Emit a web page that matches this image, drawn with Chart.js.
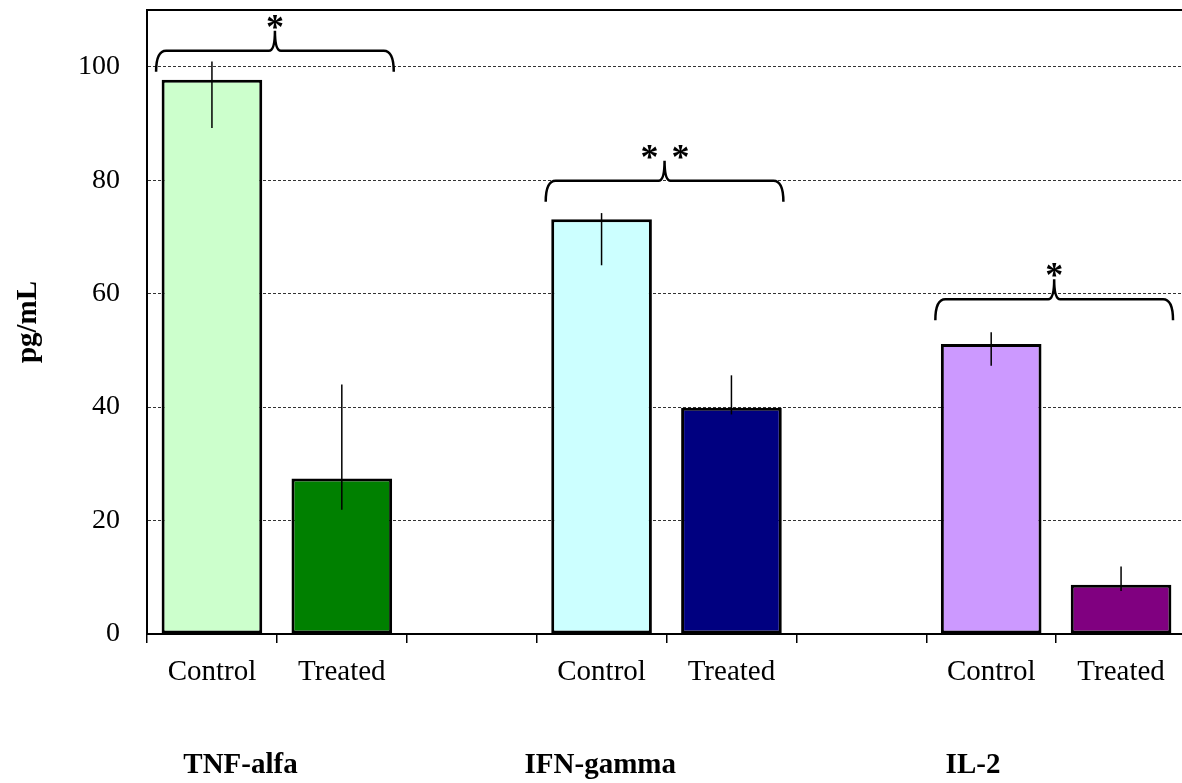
<!DOCTYPE html>
<html>
<head>
<meta charset="utf-8">
<script src="https://cdn.jsdelivr.net/npm/chart.js@4.4.0/dist/chart.umd.min.js"></script>
<style>
  html, body { margin: 0; padding: 0; background: #fff; overflow: hidden; }
  canvas { display: block; }
</style>
</head>
<body>
<canvas id="cytokines" width="1190" height="783"></canvas>
<script>
// category slots along the x axis (empty slot = gap between groups)
const categories = ['Control', 'Treated', '', 'Control', 'Treated', '', 'Control', 'Treated'];
const groupNames = ['TNF-alfa', 'IFN-gamma', 'IL-2'];
const groupLabelSlots = [0.22, 2.99, 5.86];

// values in pg/mL
const controlValues = [97.7, 73.1, 51.1];
const treatedValues = [27.4, 39.9, 8.7];
const controlErrHigh = [100.9, 74.2, 53.2];
const controlErrLow = [89.2, 65.0, 47.3];
const treatedErrHigh = [44.0, 45.6, 11.9];
const treatedErrLow = [21.9, 38.7, 7.6];

// significance braces
const braceLevels = [102.8, 79.9, 59.0];
const significance = ['*', '* *', '*'];

const controlColors = ['#ccffcc', '#ccffff', '#cc99ff'];
const treatedColors = ['#008000', '#000080', '#800080'];

// build per-slot arrays
const barValues = [], errHigh = [], errLow = [], barColors = [];
groupNames.forEach((g, i) => {
  barValues.push(controlValues[i], treatedValues[i]);
  errHigh.push(controlErrHigh[i], treatedErrHigh[i]);
  errLow.push(controlErrLow[i], treatedErrLow[i]);
  barColors.push(controlColors[i], treatedColors[i]);
  if (i < groupNames.length - 1) {
    barValues.push(null); errHigh.push(null); errLow.push(null); barColors.push('#fff');
  }
});

const serif = '"Liberation Serif", "Times New Roman", serif';

const extras = {
  id: 'extras',
  afterDatasetsDraw(chart) {
    const ctx = chart.ctx;
    const meta = chart.getDatasetMeta(0);
    const x = chart.scales.x, y = chart.scales.y;
    const area = chart.chartArea;

    // error bars
    ctx.save();
    ctx.strokeStyle = '#000';
    ctx.lineWidth = 1.5;
    barValues.forEach((v, i) => {
      if (v === null) return;
      const px = meta.data[i].x;
      ctx.beginPath();
      ctx.moveTo(px, y.getPixelForValue(errLow[i]));
      ctx.lineTo(px, y.getPixelForValue(errHigh[i]));
      ctx.stroke();
    });
    ctx.restore();

    // top frame line
    ctx.save();
    ctx.strokeStyle = '#000';
    ctx.lineWidth = 2;
    ctx.beginPath();
    ctx.moveTo(area.left, area.top);
    ctx.lineTo(area.right, area.top);
    ctx.stroke();
    ctx.restore();

    // braces with asterisks
    ctx.save();
    ctx.strokeStyle = '#000';
    ctx.fillStyle = '#000';
    ctx.lineWidth = 2.5;
    braceLevels.forEach((lvl, g) => {
      const ci = g * 3;
      const l = x.getPixelForValue(ci - 0.43);
      const r = x.getPixelForValue(ci + 1.40);
      const m = (l + r) / 2;
      const yb = y.getPixelForValue(lvl);
      const drop = 21, rise = 20, c = 10;
      ctx.beginPath();
      ctx.moveTo(l, yb + drop);
      ctx.quadraticCurveTo(l, yb, l + c, yb);
      ctx.lineTo(m - 6, yb);
      ctx.quadraticCurveTo(m, yb, m, yb - rise);
      ctx.quadraticCurveTo(m, yb, m + 6, yb);
      ctx.lineTo(r - c, yb);
      ctx.quadraticCurveTo(r, yb, r, yb + drop);
      ctx.stroke();

      ctx.font = 'bold 36px ' + serif;
      ctx.textAlign = 'center';
      ctx.textBaseline = 'alphabetic';
      const base = yb - 29 + 17;
      const marks = significance[g].split(' ');
      if (marks.length === 1) {
        ctx.fillText(marks[0], m, base);
      } else {
        ctx.fillText(marks[0], m - 15, base);
        ctx.fillText(marks[1], m + 16, base);
      }
    });
    ctx.restore();

    // group names under the axis
    ctx.save();
    ctx.fillStyle = '#000';
    ctx.font = 'bold 29px ' + serif;
    ctx.textAlign = 'center';
    ctx.textBaseline = 'middle';
    groupNames.forEach((name, g) => {
      ctx.fillText(name, x.getPixelForValue(groupLabelSlots[g]), 766);
    });
    ctx.restore();
  }
};

new Chart(document.getElementById('cytokines'), {
  type: 'bar',
  data: {
    labels: categories,
    datasets: [{
      data: barValues,
      backgroundColor: barColors,
      borderColor: '#000',
      borderWidth: 3,
      borderSkipped: false,
      barPercentage: 0.775,
      categoryPercentage: 1.0
    }]
  },
  options: {
    responsive: false,
    animation: false,
    layout: { padding: { top: 10, right: 4, left: 11, bottom: 0 } },
    plugins: {
      legend: { display: false },
      tooltip: { enabled: false }
    },
    scales: {
      x: {
        offset: true,
        afterFit(scale) { scale.height = 149; },
        grid: {
          offset: true,
          drawOnChartArea: false,
          drawTicks: true,
          tickLength: 9,
          color: '#000',
          lineWidth: 1.5
        },
        border: { display: true, color: '#000', width: 2 },
        ticks: {
          color: '#000',
          font: { family: serif, size: 29 },
          padding: 12,
          maxRotation: 0,
          autoSkip: false
        }
      },
      y: {
        min: 0,
        max: 110,
        afterFit(scale) {
          scale.width = 136;
          scale.paddingTop = 0;
          scale.paddingBottom = 0;
        },
        grid: {
          drawTicks: false,
          color: '#333',
          lineWidth: 1
        },
        border: { display: true, color: '#000', width: 2, dash: [3, 2] },
        ticks: {
          stepSize: 20,
          includeBounds: false,
          color: '#000',
          padding: 27,
          font: { family: serif, size: 28 }
        },
        title: {
          display: true,
          text: 'pg/mL',
          color: '#000',
          padding: { top: 0, bottom: 0 },
          font: { family: serif, size: 29, weight: 'bold' }
        }
      }
    }
  },
  plugins: [extras]
});
</script>
</body>
</html>
